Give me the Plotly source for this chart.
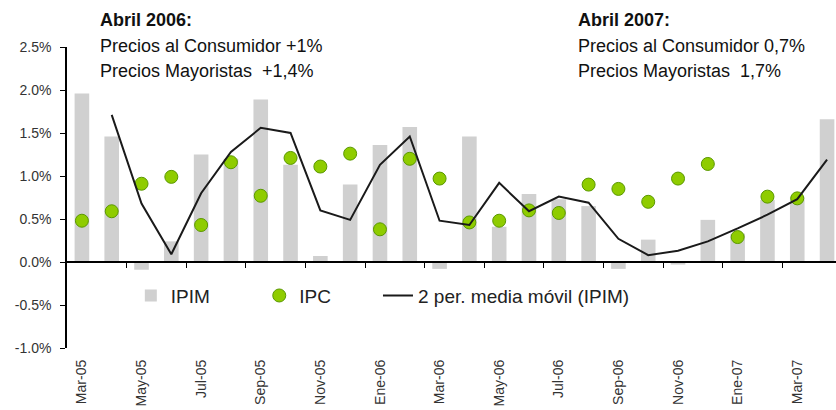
import plotly.graph_objects as go

# ---- data ----
months = ["Mar-05", "Abr-05", "May-05", "Jun-05", "Jul-05", "Ago-05", "Sep-05", "Oct-05",
          "Nov-05", "Dic-05", "Ene-06", "Feb-06", "Mar-06", "Abr-06", "May-06", "Jun-06",
          "Jul-06", "Ago-06", "Sep-06", "Oct-06", "Nov-06", "Dic-06", "Ene-07", "Feb-07",
          "Mar-07", "Abr-07"]
tick_labels = months[::2]

ipim = [1.96, 1.46, -0.09, 0.24, 1.25, 1.20, 1.89, 1.13, 0.07, 0.90, 1.36, 1.57, -0.08,
        1.46, 0.41, 0.79, 0.73, 0.65, -0.08, 0.26, -0.03, 0.49, 0.33, 0.72, 0.76, 1.66]
ipc = [0.48, 0.59, 0.91, 0.99, 0.43, 1.16, 0.77, 1.21, 1.11, 1.26, 0.38, 1.20, 0.97,
       0.46, 0.48, 0.60, 0.57, 0.90, 0.85, 0.70, 0.97, 1.14, 0.29, 0.76, 0.74, None]
ma_ipim = [None, 1.71, 0.68, 0.09, 0.80, 1.28, 1.56, 1.50, 0.60, 0.49, 1.13, 1.46, 0.48,
           0.43, 0.92, 0.59, 0.76, 0.69, 0.27, 0.08, 0.13, 0.24, 0.39, 0.55, 0.73, 1.19]

y_ticks = [-1.0, -0.5, 0.0, 0.5, 1.0, 1.5, 2.0, 2.5]
y_ticktext = [f"{v:.1f}%" for v in y_ticks]

notes_left = ["Abril 2006:", "Precios al Consumidor +1%", "Precios Mayoristas  +1,4%"]
notes_right = ["Abril 2007:", "Precios al Consumidor 0,7%", "Precios Mayoristas  1,7%"]

FONT = "Liberation Sans, Arial, sans-serif"
Y_MIN, Y_MAX = -1.0, 2.5
X_RANGE = [-0.5, 25.3]
NOTE_Y = [1.0897, 1.003, 0.920]

fig = go.Figure()
fig.add_trace(go.Bar(x=months, y=ipim, name="IPIM", legend="legend",
                     marker=dict(color="#d0d0d0", line=dict(width=0))))
fig.add_trace(go.Scatter(x=months, y=ipc, name="IPC", mode="markers", legend="legend2",
                         marker=dict(size=13, color="#8fcc00",
                                     line=dict(color="#5a9800", width=1))))
fig.add_trace(go.Scatter(x=months, y=ma_ipim, name="2 per. media móvil (IPIM)",
                         mode="lines", legend="legend3",
                         line=dict(color="#1a1a1a", width=2)))
# invisible trace to carry the zero-line axis with its tick marks
fig.add_trace(go.Scatter(x=[X_RANGE[0]], y=[0], xaxis="x2", mode="markers",
                         marker=dict(opacity=0), showlegend=False, hoverinfo="skip"))

ann = []
for xpos, notes in ((0.0403, notes_left), (0.662, notes_right)):
    for i, t in enumerate(notes):
        ann.append(dict(text=f"<b>{t}</b>" if i == 0 else t, xref="paper", yref="paper",
                        x=xpos, y=NOTE_Y[i], xanchor="left", yanchor="middle",
                        showarrow=False, font=dict(family=FONT, size=18, color="#111")))

leg_common = dict(orientation="h", y=0.174, xanchor="left", yanchor="middle",
                  font=dict(family=FONT, size=19, color="#222"),
                  bgcolor="rgba(0,0,0,0)", itemwidth=30)

fig.update_layout(
    width=836, height=410,
    margin=dict(l=67, r=0, t=47, b=62, autoexpand=False),
    paper_bgcolor="white", plot_bgcolor="white",
    font=dict(family=FONT, color="#222"),
    bargap=0.51,
    showlegend=True,
    legend=dict(x=0.083, **leg_common),
    legend2=dict(x=0.250, **leg_common),
    legend3=dict(x=0.4044, **leg_common),
    xaxis=dict(type="category", range=X_RANGE, tickvals=tick_labels, ticktext=tick_labels,
               tickangle=-90, showline=False, ticks="", showgrid=False, zeroline=False,
               automargin=False, ticklabelstandoff=8,
               tickfont=dict(family=FONT, size=14, color="#333")),
    xaxis2=dict(overlaying="x", anchor="free", position=(0 - Y_MIN) / (Y_MAX - Y_MIN),
                type="linear", range=X_RANGE,
                tickvals=[i + 1.5 for i in range(0, 24, 2)],
                showticklabels=False, ticks="outside", ticklen=5, tickcolor="#000",
                showline=True, linecolor="#000", linewidth=1.5, showgrid=False,
                zeroline=False, side="bottom", automargin=False),
    yaxis=dict(range=[Y_MIN, Y_MAX], tickvals=y_ticks, ticktext=y_ticktext,
               showline=True, linecolor="#000", linewidth=1.5, ticks="outside", ticklen=5,
               tickcolor="#000", showgrid=False, zeroline=False, automargin=False,
               ticklabelstandoff=6,
               tickfont=dict(family=FONT, size=14, color="#333")),
    annotations=ann,
)

fig.write_html("out.html", config={"displayModeBar": False},
               post_script="document.body.style.margin='0';")
